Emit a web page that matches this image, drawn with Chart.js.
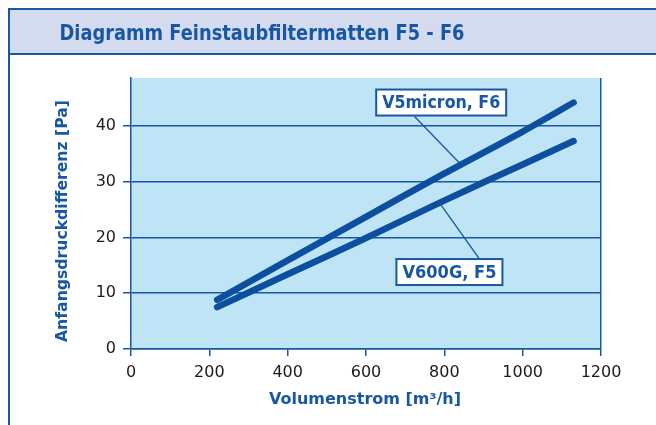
<!DOCTYPE html>
<html>
<head>
<meta charset="utf-8">
<script src="https://cdn.jsdelivr.net/npm/chart.js@4.4.1/dist/chart.umd.min.js"></script>
<style>
  body { margin: 0; background: #fff; }
</style>
</head>
<body>
<canvas id="filterChart" width="656" height="425"></canvas>
<script>
// values
const volumeF6 = [220, 400, 600, 790, 1000, 1130];
const pressureF6 = [8.8, 15.9, 23.7, 31.1, 39.0, 44.2];
const volumeF5 = [220, 400, 600, 790, 1000, 1130];
const pressureF5 = [7.5, 13.4, 19.9, 26.3, 33.1, 37.3];
const seriesNames = ['V5micron, F6', 'V600G, F5'];
const xTicks = [0, 200, 400, 600, 800, 1000, 1200];
const yTicks = [0, 10, 20, 30, 40];

const chartTitle = 'Diagramm Feinstaubfiltermatten F5 - F6';
const xTitle = 'Volumenstrom [m³/h]';
const yTitle = 'Anfangsdruckdifferenz [Pa]';

const blue = '#1757a3';
const lineBlue = '#0c4f9e';

// callout boxes, placed in data units
const callouts = [
  { text: seriesNames[0], at: [792, 44.2], w: 130, from: [724, 41.7], to: [838, 33.4] },
  { text: seriesNames[1], at: [813, 13.8], w: 106, from: [889, 16.2], to: [790, 26.0] }
];

const toPoints = (xs, ys) => xs.map((x, i) => ({ x: x, y: ys[i] }));

const framePlugin = {
  id: 'frame',
  beforeDraw(chart) {
    const { ctx, chartArea: a } = chart;
    ctx.save();
    ctx.fillStyle = '#fff';
    ctx.fillRect(0, 0, chart.width, chart.height);
    // title bar
    ctx.fillStyle = '#d5dbee';
    ctx.fillRect(9, 9, chart.width - 9, 45);
    ctx.strokeStyle = blue;
    ctx.lineWidth = 2;
    ctx.beginPath();
    ctx.moveTo(chart.width, 9);
    ctx.lineTo(9, 9);
    ctx.lineTo(9, chart.height);
    ctx.moveTo(9, 54);
    ctx.lineTo(chart.width, 54);
    ctx.stroke();
    ctx.fillStyle = blue;
    ctx.font = 'bold 22px "DejaVu Sans"';
    ctx.textAlign = 'center';
    ctx.textBaseline = 'alphabetic';
    ctx.fillText(chartTitle, 262, 39.5, 405);
    // plot background
    ctx.fillStyle = '#bee4f6';
    ctx.fillRect(a.left, a.top, a.width, a.height);
    // axis titles
    ctx.fillStyle = blue;
    ctx.font = 'bold 16px "DejaVu Sans"';
    ctx.textBaseline = 'middle';
    ctx.fillText(xTitle, 365, 400, 196);
    ctx.translate(63, 221);
    ctx.rotate(-Math.PI / 2);
    ctx.fillText(yTitle, 0, 0, 242);
    ctx.restore();
  },
  beforeDatasetsDraw(chart) {
    const { ctx, scales: { x, y } } = chart;
    ctx.save();
    ctx.strokeStyle = blue;
    ctx.lineWidth = 1.3;
    callouts.forEach(c => {
      ctx.beginPath();
      ctx.moveTo(x.getPixelForValue(c.from[0]), y.getPixelForValue(c.from[1]));
      ctx.lineTo(x.getPixelForValue(c.to[0]), y.getPixelForValue(c.to[1]));
      ctx.stroke();
    });
    ctx.restore();
  },
  afterDatasetsDraw(chart) {
    const { ctx, scales: { x, y } } = chart;
    ctx.save();
    callouts.forEach(c => {
      const cx = x.getPixelForValue(c.at[0]);
      const cy = y.getPixelForValue(c.at[1]);
      const h = 26;
      ctx.fillStyle = '#fff';
      ctx.fillRect(cx - c.w / 2, cy - h / 2, c.w, h);
      ctx.strokeStyle = blue;
      ctx.lineWidth = 2;
      ctx.strokeRect(cx - c.w / 2, cy - h / 2, c.w, h);
      ctx.fillStyle = blue;
      ctx.font = 'bold 18px "DejaVu Sans"';
      ctx.textAlign = 'center';
      ctx.textBaseline = 'middle';
      ctx.fillText(c.text, cx, cy + 1, c.w - 12);
    });
    ctx.restore();
  }
};

new Chart(document.getElementById('filterChart'), {
  type: 'line',
  data: {
    datasets: [{
      label: seriesNames[0],
      data: toPoints(volumeF6, pressureF6),
      borderColor: lineBlue,
      borderWidth: 6.5,
      borderCapStyle: 'round',
      borderJoinStyle: 'round',
      pointRadius: 0,
      tension: 0.3
    }, {
      label: seriesNames[1],
      data: toPoints(volumeF5, pressureF5),
      borderColor: lineBlue,
      borderWidth: 6.5,
      borderCapStyle: 'round',
      borderJoinStyle: 'round',
      pointRadius: 0,
      tension: 0.3
    }]
  },
  options: {
    responsive: false,
    devicePixelRatio: 1,
    animation: false,
    layout: {
      padding: { left: 0, right: 55, top: 78, bottom: 0 }
    },
    plugins: {
      legend: { display: false },
      tooltip: { enabled: false }
    },
    scales: {
      x: {
        type: 'linear',
        min: 0,
        max: 1200,
        afterFit: s => { s.height = 76; },
        afterBuildTicks: s => { s.ticks = xTicks.map(v => ({ value: v })); },
        border: { color: blue, width: 1.5 },
        grid: {
          color: c => (c.tick && c.tick.value === 1200 ? blue : 'transparent'),
          tickColor: blue,
          lineWidth: 1.5,
          tickLength: 7
        },
        ticks: {
          color: '#1a1a1a',
          padding: 7,
          maxRotation: 0,
          callback: v => String(v),
          font: { family: 'DejaVu Sans', size: 16 }
        }
      },
      y: {
        min: 0,
        max: 48.6,
        afterFit: s => { s.width = 131; },
        afterBuildTicks: s => { s.ticks = yTicks.map(v => ({ value: v })); },
        border: { color: blue, width: 1.5 },
        grid: {
          color: blue,
          tickColor: blue,
          lineWidth: 1.5,
          tickLength: 8
        },
        ticks: {
          color: '#1a1a1a',
          padding: 7,
          callback: v => String(v),
          font: { family: 'DejaVu Sans', size: 16 }
        }
      }
    }
  },
  plugins: [framePlugin]
});
</script>
</body>
</html>
